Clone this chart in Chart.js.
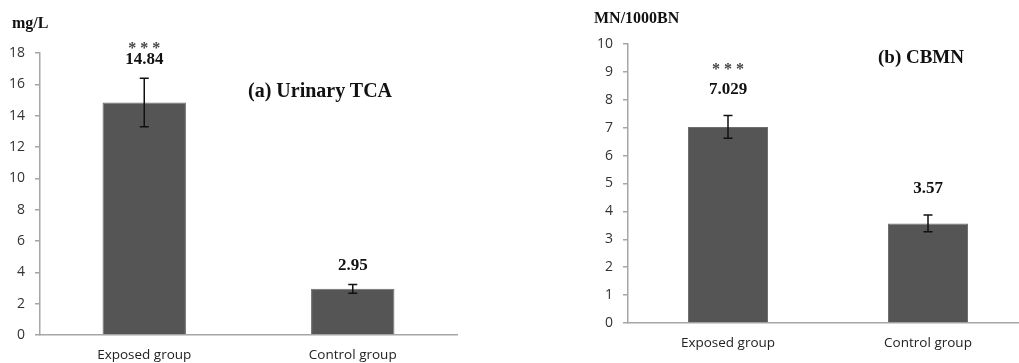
<!DOCTYPE html>
<html>
<head>
<meta charset="utf-8">
<script src="https://cdn.jsdelivr.net/npm/chart.js@4.4.1/dist/chart.umd.min.js"></script>
<style>
  html, body { margin: 0; padding: 0; background: #fff; overflow: hidden; width: 1019px; height: 363px; }
  canvas { position: absolute; top: 0; }
  .txt { position: absolute; font-family: "Liberation Serif", "DejaVu Serif", serif; font-weight: bold; color: #111; white-space: nowrap; }
</style>
</head>
<body>
<canvas id="tcaChart" width="470" height="363" style="left:0"></canvas>
<canvas id="cbmnChart" width="480" height="363" style="left:560px"></canvas>

<div class="txt" style="left:12px; top:14px; font-size:16px; line-height:18px">mg/L</div>
<div class="txt" style="left:248px; top:79px; font-size:20px; line-height:22px">(a) Urinary TCA</div>
<div class="txt" style="left:594px; top:9px; font-size:16px; line-height:18px">MN/1000BN</div>
<div class="txt" style="left:878px; top:46px; font-size:19px; line-height:22px">(b) CBMN</div>

<script>
// categories (same for both panels)
const categories = ['Exposed group', 'Control group'];

// (a) Urinary TCA, mg/L
const tcaMeans = [14.84, 2.95];
const tcaErrors = [1.55, 0.28];
const tcaLabels = ['14.84', '2.95'];
const tcaStars = ['***', ''];
const tcaMax = 18;
const tcaStep = 2;

// (b) CBMN, MN/1000BN
const cbmnMeans = [7.029, 3.57];
const cbmnErrors = [0.41, 0.3];
const cbmnLabels = ['7.029', '3.57'];
const cbmnStars = ['***', ''];
const cbmnMax = 10;
const cbmnStep = 1;

const axisGray = '#a6a6a6';

// draws error bars, value labels and stars from the scales
const errorBarPlugin = {
  id: 'errorBars',
  afterDatasetsDraw(chart, args, opts) {
    const ctx = chart.ctx;
    const meta = chart.getDatasetMeta(0);
    const yScale = chart.scales.y;
    ctx.save();
    meta.data.forEach((bar, i) => {
      const v = opts.means[i];
      const e = opts.errors[i];
      const x = bar.x;
      const yTop = yScale.getPixelForValue(v + e);
      const yBot = yScale.getPixelForValue(v - e);
      ctx.strokeStyle = '#111';
      ctx.lineWidth = 1.5;
      ctx.beginPath();
      ctx.moveTo(x, yTop); ctx.lineTo(x, yBot);
      ctx.moveTo(x - 4.5, yTop); ctx.lineTo(x + 4.5, yTop);
      ctx.moveTo(x - 4.5, yBot); ctx.lineTo(x + 4.5, yBot);
      ctx.stroke();

      const labelY = yTop - opts.labelGap;
      ctx.fillStyle = '#111';
      ctx.font = 'bold 17px "Liberation Serif", serif';
      ctx.textAlign = 'center';
      ctx.textBaseline = 'middle';
      ctx.fillText(opts.labels[i], x, labelY);
      if (opts.stars[i]) {
        ctx.fillStyle = '#444';
        ctx.font = 'bold 16px "Liberation Serif", serif';
        ctx.fillText(opts.stars[i].split('').join(' '), x, labelY - opts.starGap);
      }
    });
    ctx.restore();
  }
};

function makeChart(id, means, errors, labels, stars, yMax, yStep, pad, yWidth, xHeight, gaps) {
  const ctx = document.getElementById(id).getContext('2d');
  return new Chart(ctx, {
    type: 'bar',
    data: {
      labels: categories,
      datasets: [{
        data: means,
        backgroundColor: '#555555',
        borderColor: '#6e6e6e',
        borderWidth: 1,
        categoryPercentage: 1,
        barPercentage: 0.4
      }]
    },
    options: {
      responsive: false,
      animation: false,
      devicePixelRatio: 1,
      layout: { padding: pad },
      plugins: {
        legend: { display: false },
        tooltip: { enabled: false },
        errorBars: { means: means, errors: errors, labels: labels, stars: stars,
                     labelGap: gaps[0], starGap: gaps[1] }
      },
      scales: {
        x: {
          grid: { display: false, drawTicks: false },
          border: { display: true, color: axisGray, width: 1.5 },
          ticks: { color: '#222', padding: 12, font: { family: '"Open Sans", sans-serif', size: 13.5 } },
          afterFit: (s) => { s.height = xHeight; }
        },
        y: {
          min: 0,
          max: yMax,
          ticks: { stepSize: yStep, color: '#333', padding: 10,
                   font: { family: '"Open Sans", sans-serif', size: 14 } },
          grid: { drawOnChartArea: false, drawTicks: true, tickLength: 5, color: axisGray, lineWidth: 1.5 },
          border: { color: axisGray, width: 1.5 },
          afterFit: (s) => { s.width = yWidth; }
        }
      }
    },
    plugins: [errorBarPlugin]
  });
}

makeChart('tcaChart', tcaMeans, tcaErrors, tcaLabels, tcaStars, tcaMax, tcaStep,
  { top: 53, right: 13, bottom: 0, left: 0 }, 40, 28, [19, 10]);
makeChart('cbmnChart', cbmnMeans, cbmnErrors, cbmnLabels, cbmnStars, cbmnMax, cbmnStep,
  { top: 44, right: 12, bottom: 0, left: 0 }, 68, 40, [26, 20]);
</script>
</body>
</html>
